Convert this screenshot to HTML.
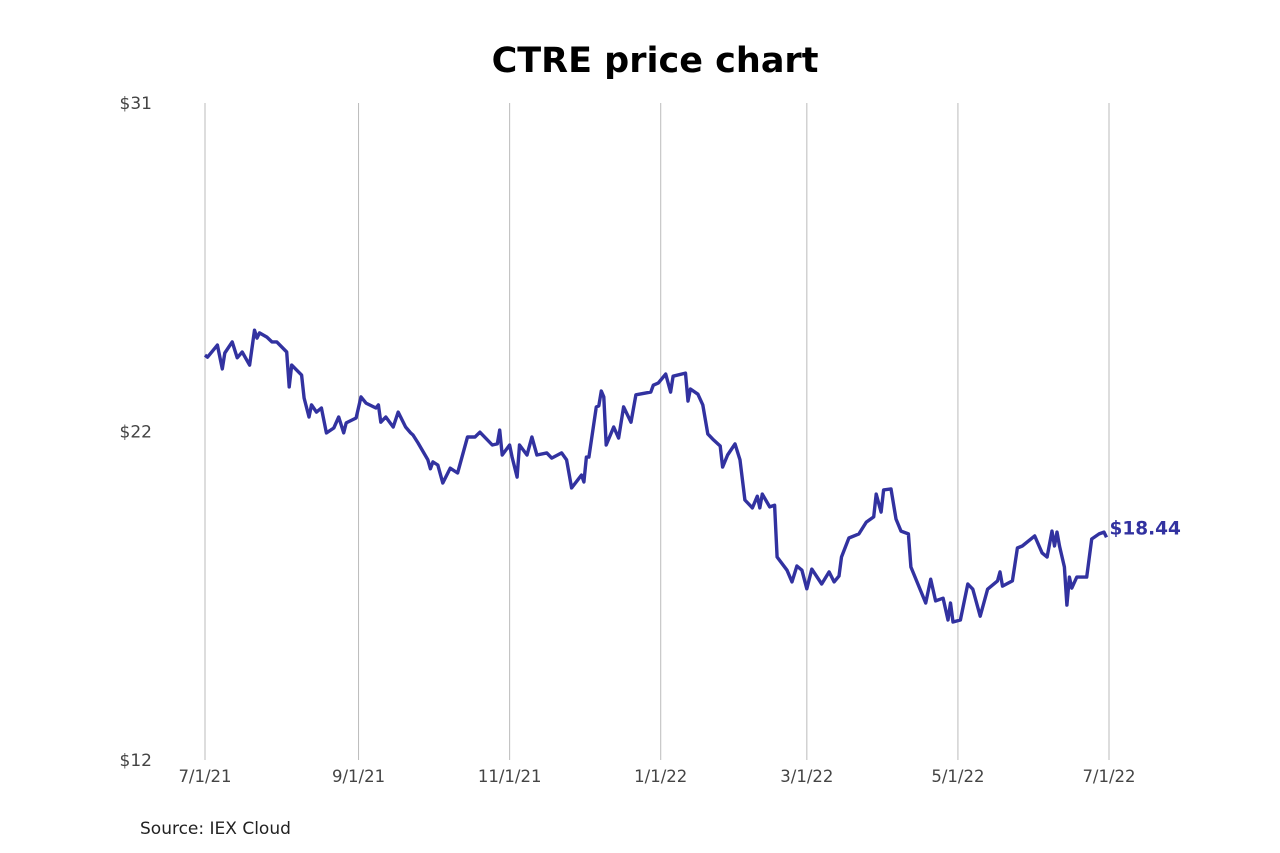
<!DOCTYPE html>
<html><head><meta charset="utf-8"><style>
body{margin:0;background:#fff;}
svg{display:block;font-family:"DejaVu Sans","Liberation Sans",sans-serif;}
</style></head><body>
<svg id="chart" width="1280" height="853">
<text x="655" y="72" text-anchor="middle" font-size="35" font-weight="bold" fill="#000">CTRE price chart</text>
<g id="grid"></g><g id="xlabels"></g><g id="ylabels"></g>
<path id="line" fill="none" stroke="#3232a0" stroke-width="3.4" stroke-linejoin="round"></path>
<text id="endlabel" font-size="18.5" font-weight="bold" fill="#3232a0"></text>
<text x="140" y="834" font-size="17" fill="#222">Source: IEX Cloud</text>
</svg>
<script>
const days=[0,1,5,7,8,11,13,15,18,20,21,22,25,27,29,33,34,35,39,40,42,43,45,47,49,52,54,56,57,61,63,65,69,70,71,73,76,78,81,83,84,86,90,91,92,94,96,99,102,106,109,111,116,118,119,120,123,124,126,127,130,132,134,138,140,144,146,148,152,153,154,155,158,159,160,161,162,165,167,169,172,174,180,181,183,186,188,189,194,195,196,199,201,203,205,208,209,211,214,216,218,221,223,224,225,228,230,231,235,237,239,241,243,245,249,252,254,256,257,260,264,267,270,271,273,274,277,279,281,284,285,291,293,295,298,300,301,302,305,308,310,313,316,320,321,322,326,328,330,335,338,340,342,343,344,345,347,348,349,350,352,356,358,361,363,364];
const prices=[23.71,23.65,24.00,23.31,23.77,24.09,23.63,23.80,23.42,24.43,24.20,24.35,24.23,24.09,24.09,23.80,22.79,23.42,23.13,22.47,21.92,22.27,22.06,22.18,21.46,21.60,21.92,21.46,21.75,21.89,22.50,22.32,22.18,22.27,21.77,21.92,21.63,22.06,21.63,21.46,21.40,21.17,20.68,20.42,20.62,20.53,20.01,20.44,20.30,21.34,21.34,21.48,21.11,21.14,21.54,20.82,21.11,20.76,20.18,21.11,20.82,21.34,20.82,20.88,20.73,20.88,20.68,19.87,20.24,20.04,20.76,20.76,22.21,22.24,22.67,22.50,21.11,21.63,21.31,22.21,21.77,22.56,22.64,22.84,22.90,23.16,22.64,23.10,23.19,22.38,22.73,22.58,22.27,21.43,21.28,21.08,20.47,20.82,21.14,20.68,19.52,19.29,19.63,19.29,19.69,19.32,19.37,17.87,17.49,17.15,17.61,17.49,16.95,17.52,17.09,17.44,17.15,17.32,17.87,18.42,18.54,18.88,19.03,19.69,19.17,19.81,19.84,18.97,18.62,18.54,17.58,16.54,17.23,16.60,16.68,16.05,16.54,15.99,16.05,17.09,16.94,16.16,16.94,17.18,17.44,17.03,17.18,18.13,18.19,18.48,17.99,17.87,18.62,18.19,18.59,18.19,17.58,16.48,17.29,16.97,17.29,17.29,18.39,18.54,18.59,18.44];
const xTickDays=[0,62,123,184,243,304,365];
const xTickLabels=["7/1/21","9/1/21","11/1/21","1/1/22","3/1/22","5/1/22","7/1/22"];
const yTickValues=[31,21.5,12];
const yTickLabels=["$31","$22","$12"];
const yMin=12,yMax=31;
const NS="http://www.w3.org/2000/svg";
const x=d=>205+d*(904/365);
const y=v=>760-(v-yMin)*(657/(yMax-yMin));
const grid=document.getElementById('grid'),xl=document.getElementById('xlabels'),yl=document.getElementById('ylabels');
xTickDays.forEach((d,i)=>{
  const l=document.createElementNS(NS,'line');
  l.setAttribute('x1',x(d));l.setAttribute('x2',x(d));l.setAttribute('y1',103);l.setAttribute('y2',760);
  l.setAttribute('stroke','#bbb');l.setAttribute('stroke-width','1');
  
  
  grid.appendChild(l);
  const t=document.createElementNS(NS,'text');
  t.setAttribute('x',x(d));t.setAttribute('y',782);t.setAttribute('text-anchor','middle');
  t.setAttribute('font-size','16.5');t.setAttribute('fill','#444');t.textContent=xTickLabels[i];
  
  
  xl.appendChild(t);
});
yTickValues.forEach((v,i)=>{
  const t=document.createElementNS(NS,'text');
  t.setAttribute('x',152);t.setAttribute('y',y(v)+6);t.setAttribute('text-anchor','end');
  t.setAttribute('font-size','17');t.setAttribute('fill','#444');t.textContent=yTickLabels[i];
  
  
  yl.appendChild(t);
});
document.getElementById('line').setAttribute('d',days.map((d,i)=>(i?'L':'M')+x(d).toFixed(1)+','+y(prices[i]).toFixed(1)).join(''));
const last=prices.length-1,el=document.getElementById('endlabel');
el.setAttribute('x',x(days[last])+3);el.setAttribute('y',y(prices[last])-3);
el.textContent='$'+prices[last].toFixed(2);
</script>
</body></html>
